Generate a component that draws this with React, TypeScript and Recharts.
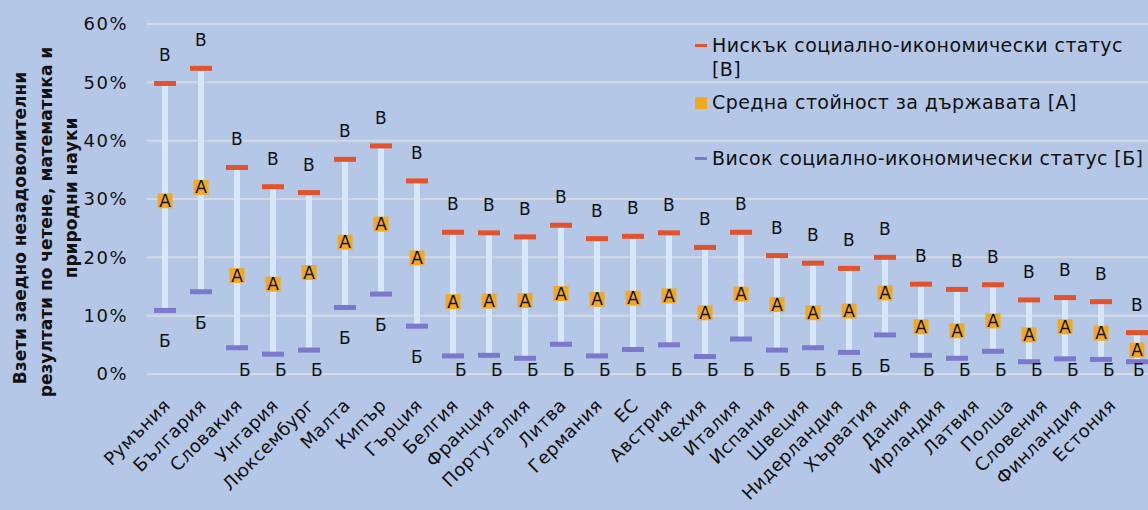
import React from 'react';
import { ComposedChart, Bar, Line, XAxis, YAxis, CartesianGrid, Legend } from 'recharts';

const FONT = '"DejaVu Sans", Verdana, sans-serif';
const BG = '#b4c7e7';
const GRID = '#d6d8e0';
const WHISKER = '#d7e7fb';
const RED = '#e2522c';
const GOLD = '#f2a922';
const VIOLET = '#7c79cc';

const countries = [
  'Румъния', 'България', 'Словакия', 'Унгария', 'Люксембург', 'Малта', 'Кипър',
  'Гърция', 'Белгия', 'Франция', 'Португалия', 'Литва', 'Германия', 'ЕС',
  'Австрия', 'Чехия', 'Италия', 'Испания', 'Швеция', 'Нидерландия', 'Хърватия',
  'Дания', 'Ирландия', 'Латвия', 'Полша', 'Словения', 'Финландия', 'Естония',
];

// Нисък социално-икономически статус [В], %
const lowStatus = [
  49.8, 52.4, 35.4, 32.1, 31.1, 36.8, 39.1,
  33.1, 24.3, 24.2, 23.5, 25.5, 23.2, 23.6,
  24.2, 21.7, 24.3, 20.3, 19.0, 18.1, 20.0,
  15.4, 14.5, 15.3, 12.7, 13.1, 12.4, 7.1,
];

// Средна стойност за държавата [А], %
const countryMean = [
  29.7, 32.0, 16.9, 15.4, 17.4, 22.6, 25.7,
  19.9, 12.4, 12.5, 12.6, 13.8, 12.8, 13.0,
  13.4, 10.5, 13.7, 11.9, 10.5, 10.8, 13.9,
  8.1, 7.4, 9.1, 6.7, 8.1, 7.0, 4.1,
];

// Висок социално-икономически статус [Б], %
const highStatus = [
  10.9, 14.1, 4.5, 3.4, 4.1, 11.4, 13.7,
  8.2, 3.1, 3.2, 2.7, 5.1, 3.1, 4.2,
  5.0, 3.0, 6.0, 4.1, 4.5, 3.7, 6.7,
  3.2, 2.7, 3.9, 2.1, 2.6, 2.5, 2.1,
];

const yTicks = [0, 10, 20, 30, 40, 50, 60];

const legendItems = [
  { kind: 'dash', color: RED, lines: ['Нискък социално-икономически статус', '[В]'] },
  { kind: 'square', color: GOLD, lines: ['Средна стойност за държавата [А]'] },
  { kind: 'dash', color: VIOLET, lines: ['Висок социално-икономически статус [Б]'] },
];

const axisTitle = [
  'Взети заедно незадоволителни',
  'резултати по четене, математика и',
  'природни науки',
];

const rows = countries.map((name, i) => ({
  name,
  low: lowStatus[i],
  mean: countryMean[i],
  high: highStatus[i],
  span: [highStatus[i], lowStatus[i]],
}));

const labelText = {
  fontSize: 17,
  fontFamily: FONT,
  fill: '#111',
  letterSpacing: 0.5,
};

function LowCap(props: any) {
  const { cx, cy, index } = props;
  if (cx == null || cy == null) return null;
  return (
    <g key={`low-${index}`}>
      <rect x={cx - 11} y={cy - 2.5} width={22} height={5} fill={RED} />
      <text x={cx} y={cy - 28} dy="0.35em" textAnchor="middle" {...labelText}>
        В
      </text>
    </g>
  );
}

function HighCap(props: any) {
  const { cx, cy, index } = props;
  if (cx == null || cy == null) return null;
  // labels that would run into the axis are nudged right, as in the original
  let ty = cy + 31;
  let dx = 0;
  if (ty > 366) {
    ty = 370;
    dx = 8;
  }
  const tx = Math.min(cx + dx, 1139);
  return (
    <g key={`high-${index}`}>
      <rect x={cx - 11} y={cy - 2.5} width={22} height={5} fill={VIOLET} />
      <text x={tx} y={ty} dy="0.35em" textAnchor="middle" {...labelText}>
        Б
      </text>
    </g>
  );
}

function MeanBox(props: any) {
  const { cx, cy, index } = props;
  if (cx == null || cy == null) return null;
  return (
    <g key={`mean-${index}`}>
      <rect x={cx - 7.5} y={cy - 7.5} width={15} height={15} fill={GOLD} />
      <text x={cx} y={cy} dy="0.36em" textAnchor="middle" {...labelText} letterSpacing={0}>
        А
      </text>
    </g>
  );
}

function CountryTick(props: any) {
  const { x, y, payload, index } = props;
  // the right-hand labels are squeezed leftwards a little so the last one fits
  const squeeze = 1.9 * Math.max(0, index - 13);
  const tx = x + 2 - squeeze;
  const ty = y + 20;
  return (
    <text
      x={tx}
      y={ty}
      dy="0.35em"
      textAnchor="end"
      transform={`rotate(-45, ${tx}, ${ty})`}
      fontSize={18}
      fontFamily={FONT}
      letterSpacing={0.4}
      fill="#111"
    >
      {payload.value}
    </text>
  );
}

function LegendBox() {
  const rowTops = [33, 90, 146];
  return (
    <div
      style={{
        position: 'relative',
        width: 460,
        height: 180,
        fontFamily: FONT,
        fontSize: 19,
        letterSpacing: 0.4,
        color: '#111',
      }}
    >
      {legendItems.map((item, i) => (
        <div key={i} style={{ position: 'absolute', left: 0, top: rowTops[i], width: 460 }}>
          <span
            style={{
              position: 'absolute',
              left: 0,
              top: item.kind === 'dash' ? 11 : 7,
              width: 12,
              height: item.kind === 'dash' ? 3 : 12,
              background: item.color,
            }}
          />
          <div style={{ marginLeft: 17, lineHeight: '24px', whiteSpace: 'nowrap' }}>
            {item.lines.map((l, j) => (
              <div key={j}>{l}</div>
            ))}
          </div>
        </div>
      ))}
    </div>
  );
}

export default function App() {
  return (
    <div
      style={{
        position: 'absolute',
        left: 0,
        top: 0,
        width: 1148,
        height: 510,
        overflow: 'hidden',
        background: BG,
      }}
    >
      <ComposedChart
        width={1160}
        height={510}
        data={rows}
        margin={{ top: 24, right: 5, bottom: 0, left: 0 }}
        style={{ fontFamily: FONT }}
      >
        <CartesianGrid vertical={false} stroke={GRID} strokeWidth={2} />
        <XAxis
          dataKey="name"
          interval={0}
          height={136}
          tickLine={false}
          axisLine={false}
          tick={<CountryTick />}
        />
        <YAxis
          domain={[0, 60]}
          ticks={yTicks}
          width={147}
          tickLine={false}
          axisLine={false}
          tickSize={0}
          tickMargin={19}
          tickFormatter={(v: number) => `${v}%`}
          tick={{ fontSize: 18, fill: '#111', fontFamily: FONT, letterSpacing: 1.5 }}
        />
        <Legend
          layout="vertical"
          align="center"
          verticalAlign="middle"
          content={() => <LegendBox />}
          wrapperStyle={{ left: 695, top: 0, width: 460, height: 180 }}
        />
        <Bar dataKey="span" barSize={6} fill={WHISKER} isAnimationActive={false} legendType="none" />
        <Line
          dataKey="low"
          stroke="none"
          dot={LowCap}
          activeDot={false}
          isAnimationActive={false}
          legendType="none"
        />
        <Line
          dataKey="high"
          stroke="none"
          dot={HighCap}
          activeDot={false}
          isAnimationActive={false}
          legendType="none"
        />
        <Line
          dataKey="mean"
          stroke="none"
          dot={MeanBox}
          activeDot={false}
          isAnimationActive={false}
          legendType="none"
        />
      </ComposedChart>
      <svg
        width={100}
        height={440}
        style={{ position: 'absolute', left: 0, top: 0, pointerEvents: 'none' }}
      >
        {axisTitle.map((line, i) => {
          const cx = [20, 46, 71][i];
          const cy = [228, 222, 198][i];
          return (
            <text
              key={i}
              x={cx}
              y={cy}
              dy="0.35em"
              textAnchor="middle"
              transform={`rotate(-90, ${cx}, ${cy})`}
              fontSize={17}
              fontWeight="bold"
              fontFamily={FONT}
              fill="#111"
            >
              {line}
            </text>
          );
        })}
      </svg>
    </div>
  );
}
